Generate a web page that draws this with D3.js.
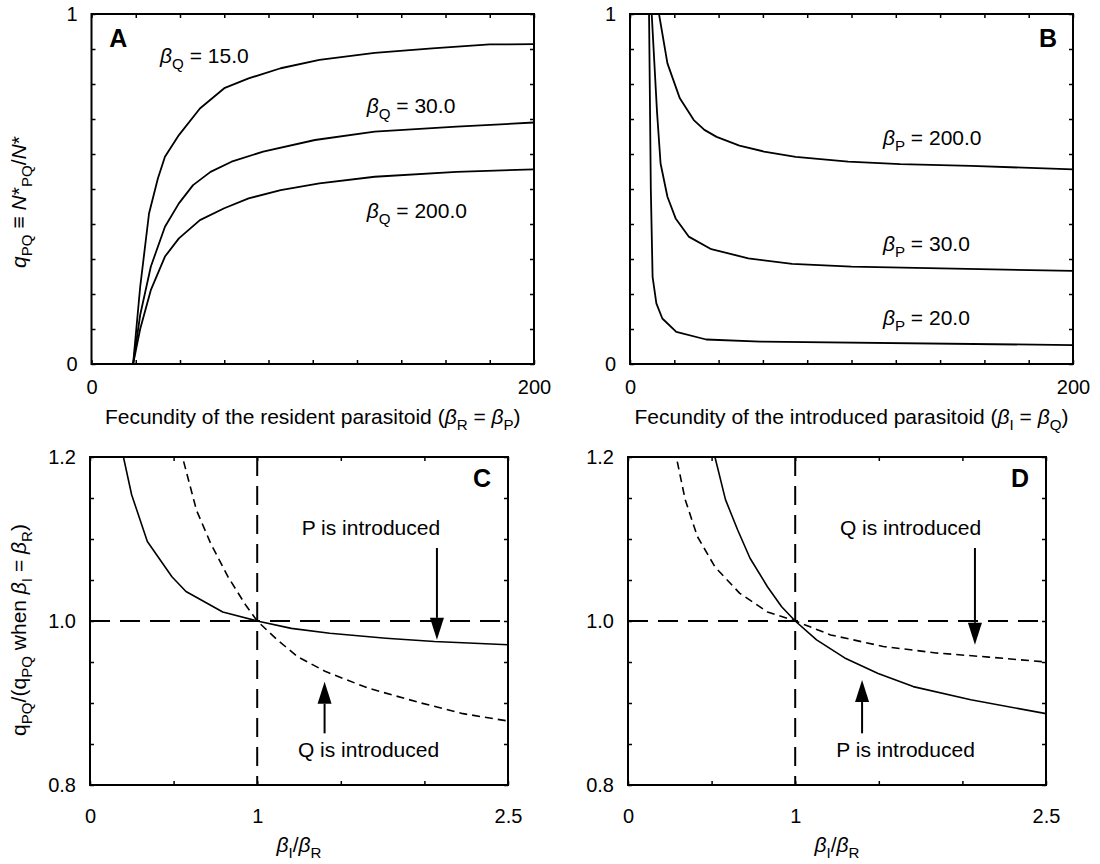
<!DOCTYPE html>
<html><head><meta charset="utf-8">
<script src="https://cdn.jsdelivr.net/npm/d3@7"></script>
<style>body{margin:0;background:#fff}svg text{font-family:"Liberation Sans",Arial,sans-serif;fill:#000}</style>
</head><body>
<svg id="c" width="1100" height="864"></svg>
<script>
// ---------- DATA ----------
// Panel A: x = beta_R = beta_P, y = q_PQ
const aQ15  = [[18.8,0],[22,0.22],[26,0.43],[30,0.53],[33.2,0.592],[39.5,0.654],[49,0.73],[60,0.788],[71,0.816],[85.5,0.845],[103,0.869],[128,0.889],[154,0.902],[180,0.913],[200,0.914]];
const aQ30  = [[18.8,0],[22,0.14],[26.8,0.278],[33.2,0.392],[39.5,0.459],[45.9,0.511],[53.8,0.549],[63.3,0.578],[77.6,0.607],[101,0.64],[128,0.664],[165,0.678],[200,0.69]];
const aQ200 = [[18.8,0],[22,0.1],[26.8,0.211],[33.2,0.307],[39.5,0.359],[49,0.411],[60,0.445],[71,0.473],[85.5,0.497],[103,0.516],[128,0.535],[165,0.549],[200,0.556]];
// Panel B: x = beta_I = beta_Q, y = q_PQ
const bP200 = [[12.2,1.1],[13.1,1.0],[16.9,0.859],[22.5,0.759],[28.8,0.697],[33.6,0.669],[39.1,0.649],[49.4,0.624],[60.5,0.607],[74.8,0.592],[98.5,0.578],[122,0.571],[154,0.566],[200,0.556]];
const bP30  = [[9.6,1.1],[9.8,1.0],[12.2,0.72],[13.8,0.573],[16.9,0.478],[20.6,0.416],[26.5,0.364],[36.7,0.328],[53.4,0.302],[73.2,0.286],[100,0.278],[200,0.266]];
const bP20  = [[8.5,1.1],[8.6,1.0],[9.4,0.5],[10.2,0.249],[11.9,0.173],[14.6,0.13],[20.9,0.092],[34.4,0.07],[58.9,0.064],[200,0.054]];
// Panel C / D: x = beta_I/beta_R, y = q_PQ / (q_PQ when beta_I = beta_R)
const cP = [[0.19,1.21],[0.2,1.2],[0.249,1.154],[0.343,1.097],[0.49,1.054],[0.574,1.036],[0.794,1.011],[1.0,1.0],[1.204,0.991],[1.434,0.985],[1.77,0.979],[2.06,0.975],[2.5,0.971]];
const cQ = [[0.54,1.21],[0.553,1.2],[0.637,1.135],[0.721,1.095],[0.825,1.054],[0.931,1.0195],[1.0,1.0],[1.12,0.977],[1.245,0.956],[1.413,0.938],[1.665,0.918],[1.98,0.9],[2.231,0.887],[2.5,0.878]];
const dP = [[0.51,1.21],[0.52,1.2],[0.583,1.148],[0.656,1.111],[0.73,1.0765],[0.834,1.0418],[0.919,1.0174],[1.0,1.0],[1.128,0.977],[1.296,0.955],[1.496,0.936],[1.706,0.92],[2.05,0.904],[2.5,0.887]];
const dQ = [[0.28,1.21],[0.289,1.2],[0.342,1.148],[0.415,1.103],[0.52,1.066],[0.667,1.034],[0.834,1.011],[1.0,1.0],[1.212,0.983],[1.527,0.969],[1.842,0.961],[2.157,0.956],[2.5,0.95]];
// Ticks
const abXTicks = [0,20,40,60,80,100,120,140,160,180,200];
const abXLabels = [0,200];
const abYTicks = [0,0.1,0.2,0.3,0.4,0.5,0.6,0.7,0.8,0.9,1];
const abYLabels = [0,1];
const cdXTicks = [0,0.5,1,1.5,2,2.5];
const cdXLabels = [0,1,2.5];
const cdYTicks = [0.8,0.85,0.9,0.95,1.0,1.05,1.1,1.15,1.2];
const cdYLabels = [0.8,1.0,1.2];

// ---------- DRAW ----------
const svg = d3.select("#c");
const FS = 21;   // titles / annotations
const TFS = 20;  // tick labels

function rich(textSel, parts, size){
  let shift = 0;
  parts.forEach(p=>{
    const ts = textSel.append("tspan").text(p.t);
    if(p.i) ts.attr("font-style","italic");
    const want = p.sub ? size*0.3 : 0;
    if(p.sub) ts.attr("font-size", size*0.72);
    if(want!==shift){ ts.attr("dy", want-shift); shift = want; }
  });
  return textSel;
}

let clipId = 0;
function panel(o){
  const x = d3.scaleLinear().domain(o.xd).range([o.l,o.r]);
  const y = d3.scaleLinear().domain(o.yd).range([o.b,o.t]);
  const g = svg.append("g");
  const id = "clip"+(clipId++);
  g.append("clipPath").attr("id",id).append("rect").attr("x",o.l).attr("y",o.t).attr("width",o.r-o.l).attr("height",o.b-o.t);
  const tk = 4;
  const ab = g.append("g").attr("transform",`translate(0,${o.b})`).call(d3.axisBottom(x).tickValues(o.xt).tickSize(-tk).tickFormat(""));
  const at = g.append("g").attr("transform",`translate(0,${o.t})`).call(d3.axisTop(x).tickValues(o.xt).tickSize(-tk).tickFormat(""));
  const al = g.append("g").attr("transform",`translate(${o.l},0)`).call(d3.axisLeft(y).tickValues(o.yt).tickSize(-tk).tickFormat(""));
  const ar = g.append("g").attr("transform",`translate(${o.r},0)`).call(d3.axisRight(y).tickValues(o.yt).tickSize(-tk).tickFormat(""));
  [ab,at,al,ar].forEach(a=>{a.select(".domain").remove(); a.selectAll("line").attr("stroke","#000").attr("stroke-width",1.5);});
  const lb = g.append("g").attr("transform",`translate(0,${o.b})`).call(d3.axisBottom(x).tickValues(o.xl).tickSize(0).tickPadding(o.xpad).tickFormat(o.fx));
  const ll = g.append("g").attr("transform",`translate(${o.l},0)`).call(d3.axisLeft(y).tickValues(o.yl).tickSize(0).tickPadding(14).tickFormat(o.fy));
  [lb,ll].forEach(a=>{a.select(".domain").remove(); a.selectAll("text").attr("font-size",TFS).attr("font-family",'"Liberation Sans",Arial,sans-serif').attr("fill","#000");});
  if(o.refs){
    g.append("line").attr("x1",o.l).attr("x2",o.r).attr("y1",y(1)).attr("y2",y(1)).attr("stroke","#000").attr("stroke-width",2).attr("stroke-dasharray","20,10");
    g.append("line").attr("x1",x(1)).attr("x2",x(1)).attr("y1",o.t).attr("y2",o.b).attr("stroke","#000").attr("stroke-width",2).attr("stroke-dasharray","19,10");
  }
  const line = d3.line().x(d=>x(d[0])).y(d=>y(d[1]));
  const cg = g.append("g").attr("clip-path",`url(#${id})`);
  o.series.forEach(s=>{
    cg.append("path").attr("d",line(s.data)).attr("fill","none").attr("stroke","#000")
      .attr("stroke-width",s.w||1.8).attr("stroke-dasharray",s.dash||null).attr("stroke-linejoin","round");
  });
  g.append("rect").attr("x",o.l).attr("y",o.t).attr("width",o.r-o.l).attr("height",o.b-o.t).attr("fill","none").attr("stroke","#000").attr("stroke-width",2);
  g.append("text").attr("x",x(o.letter.x)).attr("y",y(o.letter.y)).attr("text-anchor",o.letter.anchor)
    .attr("font-size",25).attr("font-weight","bold").text(o.letter.t);
  (o.labels||[]).forEach(L=>{
    const t = g.append("text").attr("x",x(L.x)).attr("y",y(L.y)).attr("font-size",FS).attr("text-anchor",L.anchor||"start");
    rich(t, L.parts, FS);
  });
  (o.arrows||[]).forEach(A=>{
    const ax = x(A.x), y0 = y(A.from), y1 = y(A.to);
    const dir = y1>y0 ? 1 : -1;
    const hl = 22, hw = 7;
    g.append("line").attr("x1",ax).attr("x2",ax).attr("y1",y0).attr("y2",y1-dir*hl).attr("stroke","#000").attr("stroke-width",2);
    g.append("path").attr("d",`M${ax},${y1} L${ax-hw},${y1-dir*hl} L${ax+hw},${y1-dir*hl} Z`).attr("fill","#000");
  });
  const xt = g.append("text").attr("x",(o.l+o.r)/2).attr("y",o.xtY).attr("text-anchor","middle").attr("font-size",FS);
  rich(xt, o.xtitle, FS);
  if(o.ytitle){
    const yt = g.append("text").attr("transform",`translate(${o.ytX},${o.ytC}) rotate(-90)`).attr("text-anchor","middle").attr("font-size",FS);
    rich(yt, o.ytitle, FS);
  }
  return {x,y};
}

const fmtInt = d=>String(d);
const fmt1 = d=>d.toFixed(1);
const beta = (sub)=>[{t:"β",i:true},{t:sub,sub:true}];

panel({l:91.5,r:534,t:14,b:364,xd:[0,200],yd:[0,1],xt:abXTicks,xl:abXLabels,yt:abYTicks,yl:abYLabels,
  fx:fmtInt,fy:fmtInt,xpad:15.5,
  series:[{data:aQ15},{data:aQ30},{data:aQ200}],
  letter:{t:"A",x:8,y:0.906,anchor:"start"},
  labels:[
    {x:31,y:0.86,parts:[...beta("Q"),{t:" = 15.0"}]},
    {x:124.4,y:0.717,parts:[...beta("Q"),{t:" = 30.0"}]},
    {x:124.4,y:0.417,parts:[...beta("Q"),{t:" = 200.0"}]}
  ],
  xtitle:[{t:"Fecundity of the resident parasitoid ("},...beta("R"),{t:" = "},...beta("P"),{t:")"}],xtY:424,
  ytitle:[{t:"q",i:true},{t:"PQ",sub:true},{t:" ≡ "},{t:"N",i:true},{t:"*"},{t:"PQ",sub:true},{t:"/"},{t:"N",i:true},{t:"*"}],ytX:26,ytC:202
});

panel({l:630,r:1073,t:14,b:364,xd:[0,200],yd:[0,1],xt:abXTicks,xl:abXLabels,yt:abYTicks,yl:abYLabels,
  fx:fmtInt,fy:fmtInt,xpad:15.5,
  series:[{data:bP200},{data:bP30},{data:bP20}],
  letter:{t:"B",x:192.8,y:0.906,anchor:"end"},
  labels:[
    {x:114.2,y:0.626,parts:[...beta("P"),{t:" = 200.0"}]},
    {x:114.2,y:0.323,parts:[...beta("P"),{t:" = 30.0"}]},
    {x:114.2,y:0.111,parts:[...beta("P"),{t:" = 20.0"}]}
  ],
  xtitle:[{t:"Fecundity of the introduced parasitoid ("},...beta("I"),{t:" = "},...beta("Q"),{t:")"}],xtY:424
});

panel({l:90,r:508,t:457,b:785,xd:[0,2.5],yd:[0.8,1.2],xt:cdXTicks,xl:cdXLabels,yt:cdYTicks,yl:cdYLabels,
  fx:d=>String(d),fy:fmt1,xpad:23.5,refs:true,
  series:[{data:cP,w:1.6},{data:cQ,w:1.6,dash:"8,5"}],
  letter:{t:"C",x:2.398,y:1.163,anchor:"end"},
  labels:[
    {x:1.68,y:1.105,anchor:"middle",parts:[{t:"P is introduced"}]},
    {x:1.666,y:0.834,anchor:"middle",parts:[{t:"Q is introduced"}]}
  ],
  arrows:[{x:2.075,from:1.089,to:0.977},{x:1.403,from:0.863,to:0.926}],
  xtitle:[...beta("I"),{t:"/"},...beta("R")],xtY:852,
  ytitle:[{t:"q"},{t:"PQ",sub:true},{t:"/(q"},{t:"PQ",sub:true},{t:" when "},...beta("I"),{t:" = "},...beta("R"),{t:")"}],ytX:26,ytC:630
});

panel({l:628,r:1046,t:457,b:785,xd:[0,2.5],yd:[0.8,1.2],xt:cdXTicks,xl:cdXLabels,yt:cdYTicks,yl:cdYLabels,
  fx:d=>String(d),fy:fmt1,xpad:23.5,refs:true,
  series:[{data:dP,w:1.6},{data:dQ,w:1.6,dash:"8,5"}],
  letter:{t:"D",x:2.398,y:1.163,anchor:"end"},
  labels:[
    {x:1.69,y:1.105,anchor:"middle",parts:[{t:"Q is introduced"}]},
    {x:1.66,y:0.834,anchor:"middle",parts:[{t:"P is introduced"}]}
  ],
  arrows:[{x:2.075,from:1.089,to:0.971},{x:1.40,from:0.863,to:0.928}],
  xtitle:[...beta("I"),{t:"/"},...beta("R")],xtY:852
});
</script>
</body></html>
